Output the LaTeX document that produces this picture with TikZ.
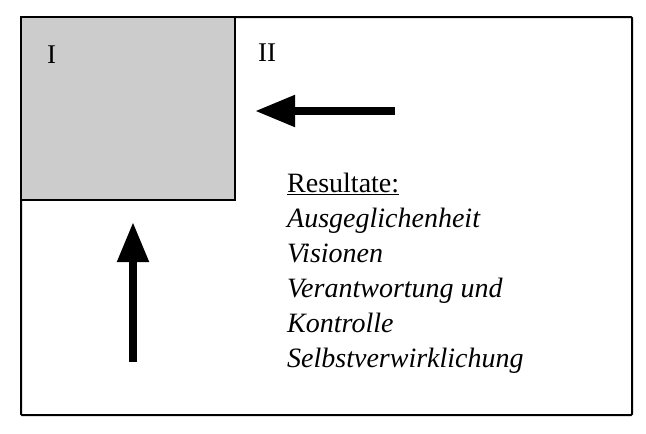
\documentclass[tikz,border=0pt]{standalone}
\usepackage{fontspec}
\setmainfont{Liberation Serif}
\usetikzlibrary{arrows.meta}
\begin{document}
\begin{tikzpicture}[x=1pt,y=-1pt,
  frame/.style={draw=black,line width=2pt},
  bigarrow/.style={line width=8pt,-{Triangle[length=40pt,width=30pt]}},
  lbl/.style={font=\fontsize{27}{27}\selectfont,anchor=west,inner sep=0pt},
  res/.style={font=\fontsize{28}{35}\selectfont,align=left,anchor=north west,inner sep=0pt}]
\useasboundingbox (0,0) rectangle (646,434);
\node[frame,rounded corners=1pt,minimum width=611pt,minimum height=398pt,anchor=north west,inner sep=0pt] (outer) at (20,16) {};
\node[frame,fill=black!20,minimum width=214pt,minimum height=183pt,anchor=north west,inner sep=0pt] (quad) at (20,16) {};
\node[lbl] (one) at (47,55) {I};
\node[lbl] (two) at (258,53) {II};
\coordinate (a1s) at (395,111);
\coordinate (a1e) at (255,111);
\draw[bigarrow] (a1s) -- (a1e);
\coordinate (a2s) at (133,362);
\coordinate (a2e) at (133,222);
\draw[bigarrow] (a2s) -- (a2e);
\node[res] (text) at (287,173) {\underline{Resultate:}\\ \itshape Ausgeglichenheit\\ \itshape Visionen\\ \itshape Verantwortung und\\ \itshape Kontrolle\\ \itshape Selbstverwirklichung};
\end{tikzpicture}
\end{document}
